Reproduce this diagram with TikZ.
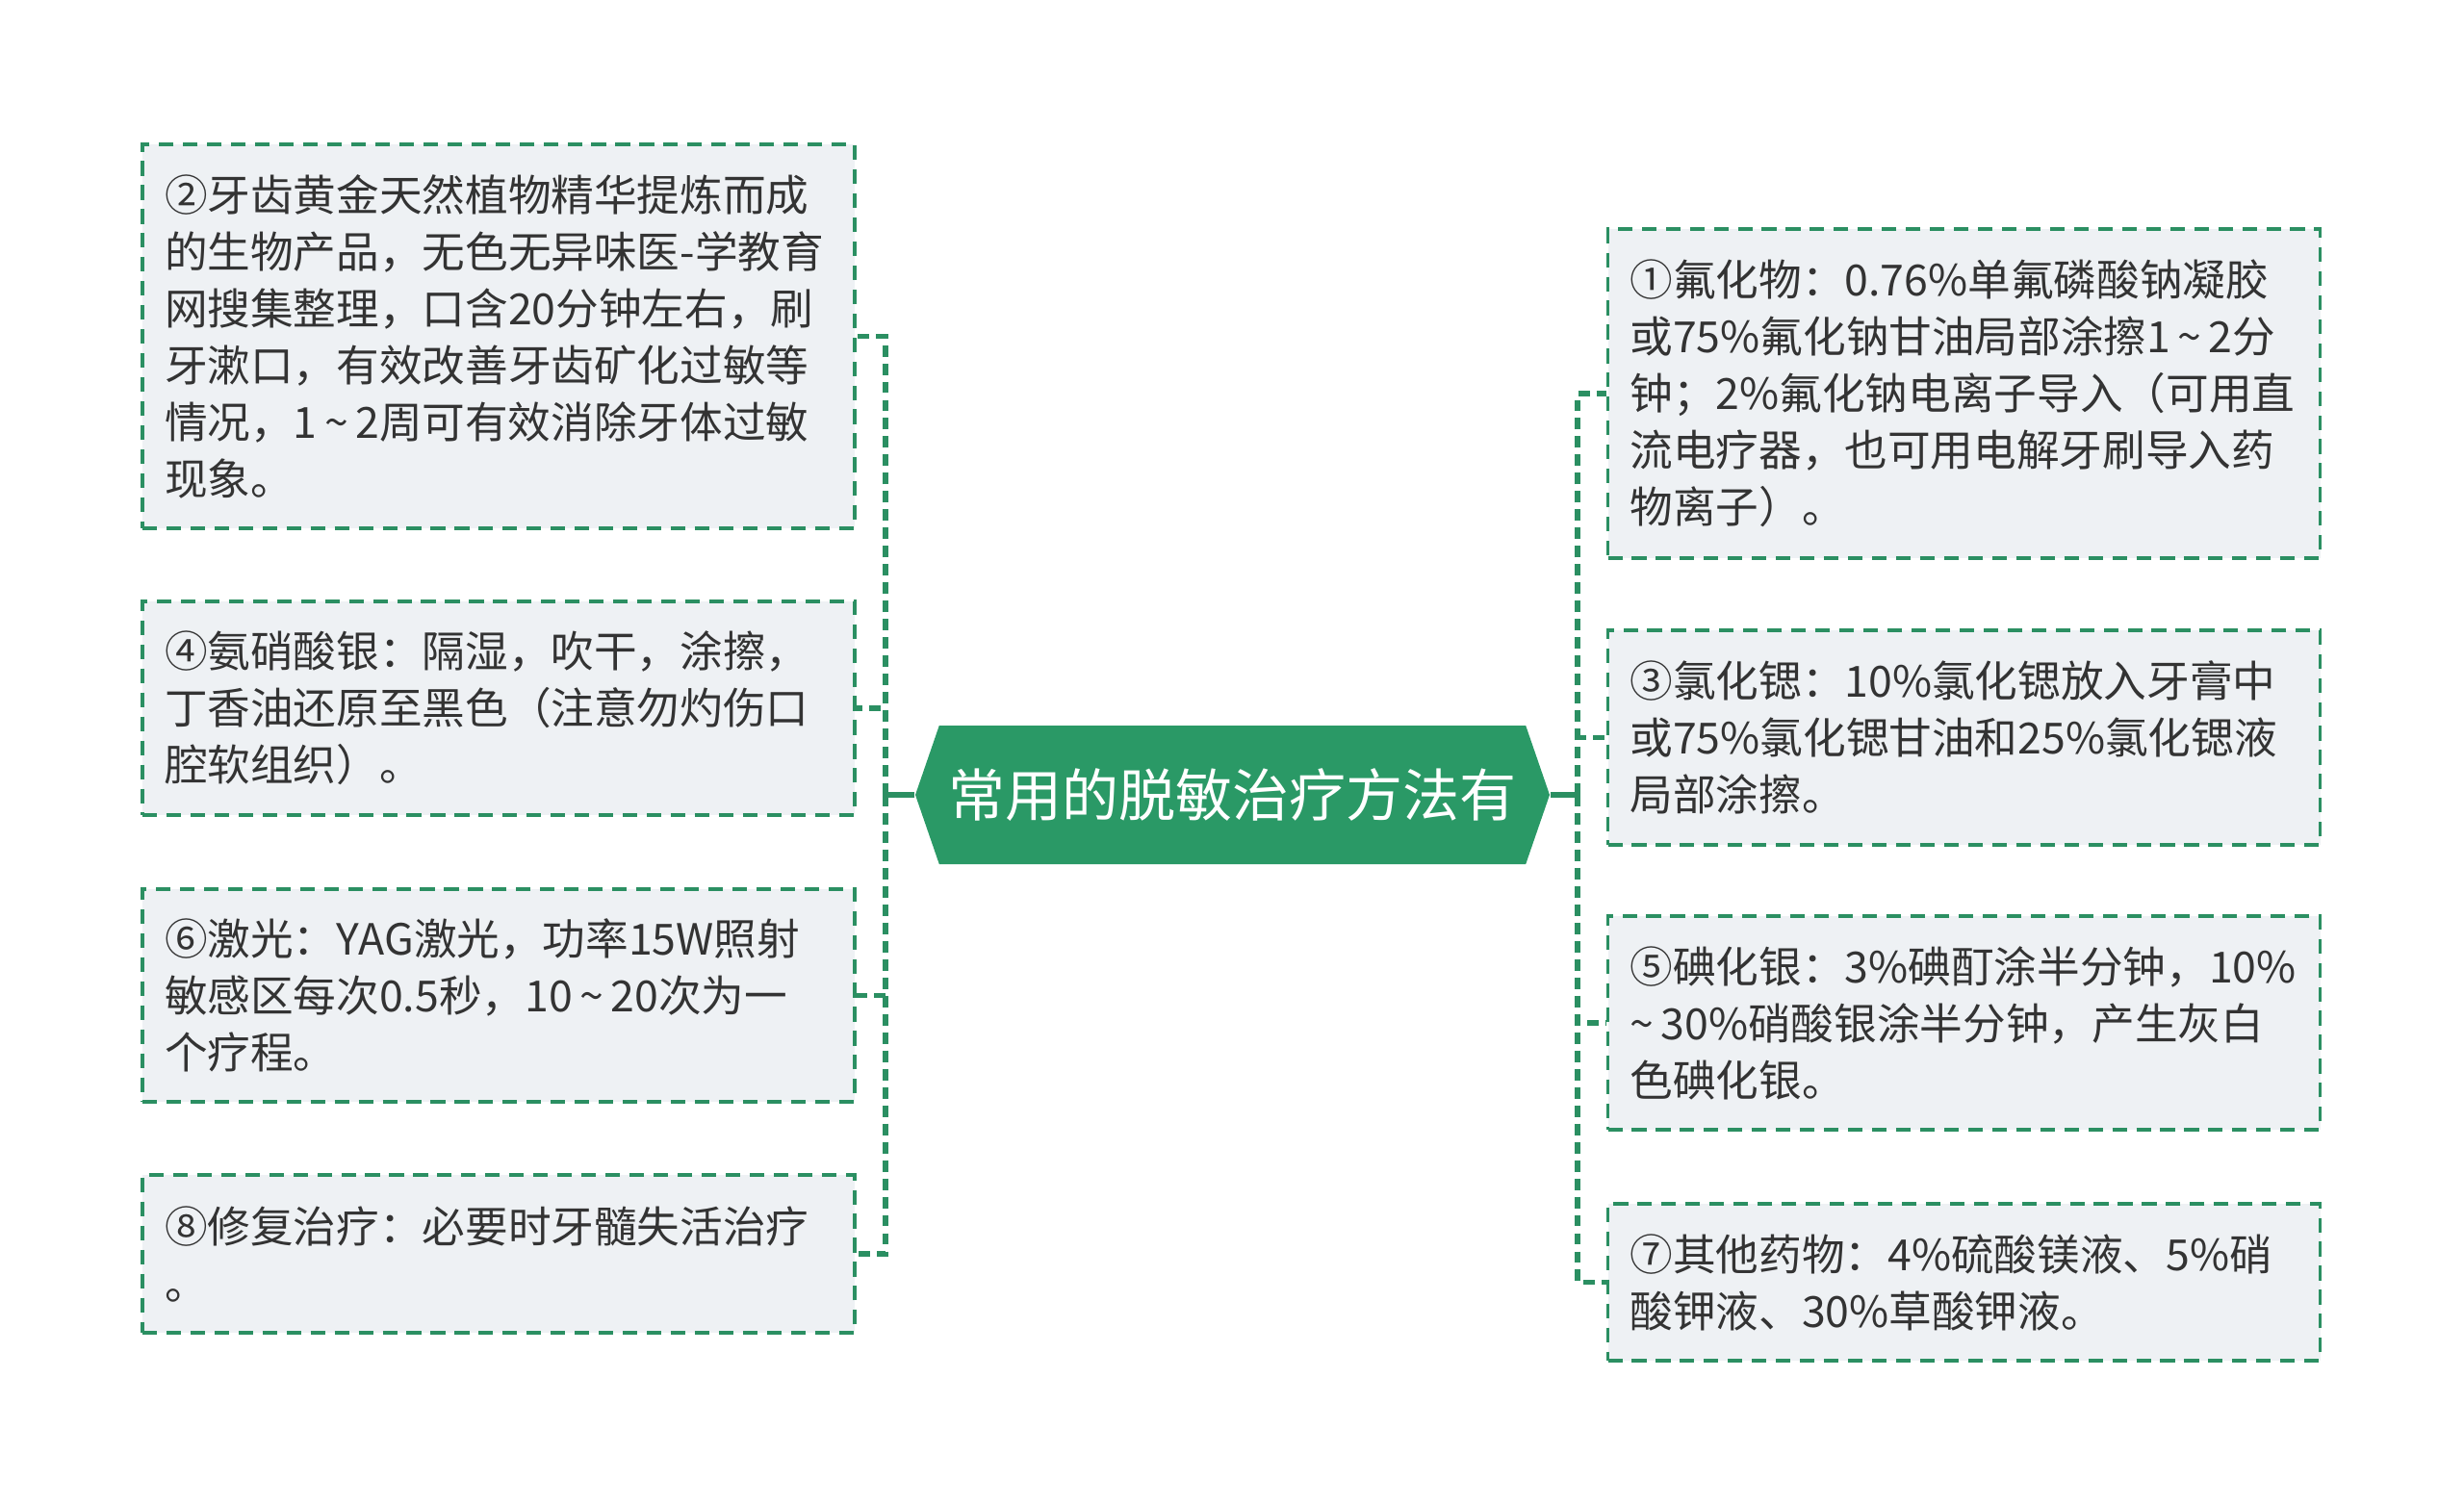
\documentclass[tikz,border=0pt]{standalone}
\usepackage{fontspec}
\setmainfont{Noto Sans CJK SC}
\usetikzlibrary{shapes.symbols}
\definecolor{hubgreen}{HTML}{2A9966}
\definecolor{linegreen}{HTML}{2B8F62}
\definecolor{boxfill}{HTML}{EEF1F4}
\definecolor{txtgray}{HTML}{333333}

\begin{document}
\begin{tikzpicture}[
  leaf/.style={draw=linegreen, line width=1pt, dash pattern=on 4.3pt off 2.8pt,
    fill=boxfill, text=txtgray, align=left, inner xsep=0.23cm, inner ysep=0pt,
    text width=6.94cm, font=\fontsize{12.7pt}{16.8pt}\selectfont},
  link/.style={draw=linegreen, line width=1.5pt, dash pattern=on 3.4pt off 2pt},
  hubline/.style={draw=linegreen, line width=1.5pt}
]
\useasboundingbox (0,0) rectangle (25.6,-15.63);
\node[signal, signal to=west and east, signal pointer angle=142, fill=hubgreen,
  minimum width=6.59cm, minimum height=1.44cm, inner sep=0pt, text=white,
  font=\fontsize{16.8pt}{20pt}\selectfont] (hub) at (12.805,-8.26) {常用的脱敏治疗方法有};
% left side
\node[leaf, minimum height=3.99cm] (b2) at (5.18,-3.495) {②牙齿黄金天然植物精华提炼而成\\的生物产品，无色无异味医-学教育\\网搜集整理，口含20分钟左右，刷\\牙漱口，有效改善牙齿矿化过敏等\\情况，1\,\char"7E\,2周可有效消除牙体过敏\\现象。};
\node[leaf, minimum height=2.22cm] (b4) at (5.18,-7.36) {④氨硝酸银：隔湿，吹干，涂擦，\\丁香油还原至黑色（注意勿灼伤口\\腔软组织）。};
\node[leaf, minimum height=2.21cm] (b6) at (5.18,-10.345) {⑥激光：YAG激光，功率15W照射\\敏感区每次0.5秒，10\,\char"7E\,20次为一\\个疗程。};
\node[leaf, minimum height=1.64cm] (b8) at (5.18,-13.03) {⑧修复治疗：必要时牙髓失活治疗\\。};
% right side
\node[leaf, minimum height=3.42cm] (b1) at (20.405,-4.09) {①氟化物：0.76\%单氟磷酸钠凝胶\\或75\%氟化钠甘油局部涂擦1\,\char"7E\,2分\\钟；2\%氟化钠电离子导入（可用直\\流电疗器，也可用电解牙刷导入药\\物离子）。};
\node[leaf, minimum height=2.23cm] (b3) at (20.405,-7.665) {③氯化锶：10\%氯化锶放入牙膏中\\或75\%氯化锶甘油和25\%氯化锶液\\局部涂擦。};
\node[leaf, minimum height=2.22cm] (b5) at (20.405,-10.63) {⑤碘化银：3\%碘酊涂半分钟，10\%\\\char"7E\,30\%硝酸银涂半分钟，产生灰白\\色碘化银。};
\node[leaf, minimum height=1.63cm] (b7) at (20.405,-13.325) {⑦其他药物：4\%硫酸镁液、5\%硝\\酸钾液、30\%草酸钾液。};
% connectors
\coordinate (lj) at (9.20,-8.26);
\coordinate (rj) at (16.39,-8.26);
\draw[hubline] (hub.west) -- (lj);
\draw[hubline] (hub.east) -- (rj);
\foreach \n in {b2,b4,b6,b8}
  \draw[link] (lj) |- (\n.east);
\foreach \n in {b1,b3,b5,b7}
  \draw[link] (rj) |- (\n.west);
\end{tikzpicture}
\end{document}
